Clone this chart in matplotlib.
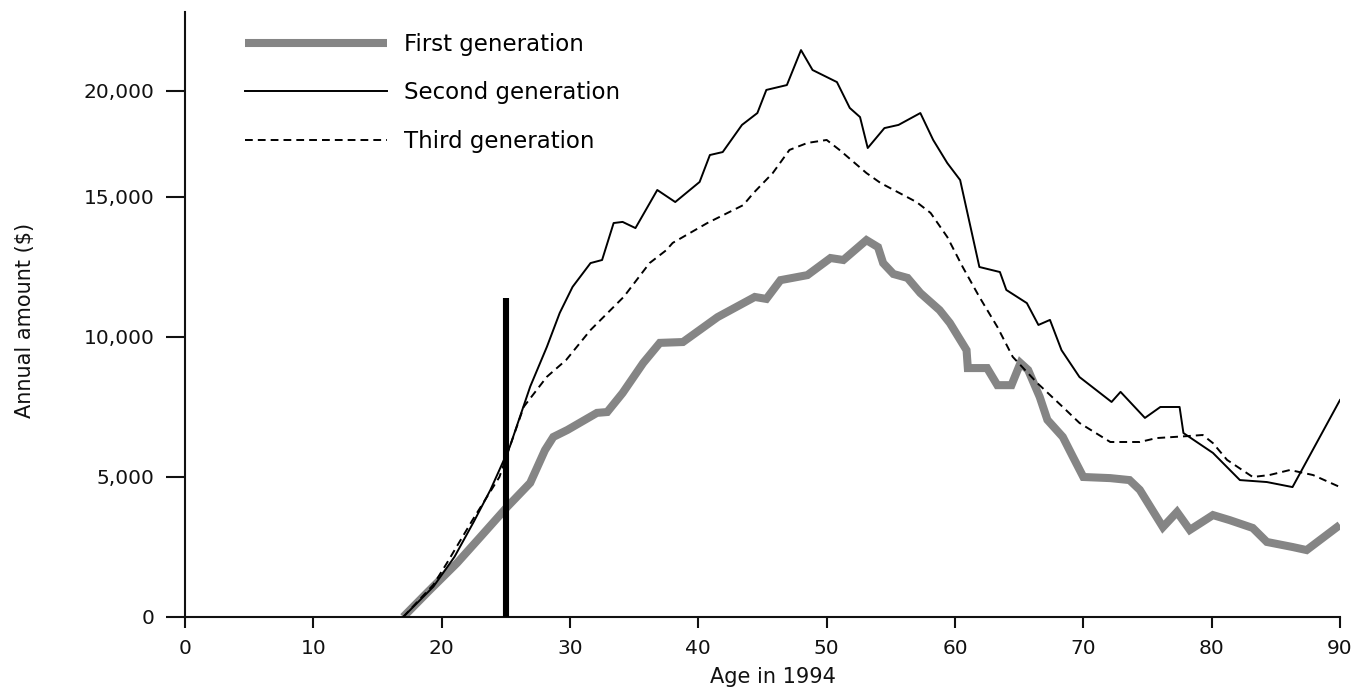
import numpy as np
import matplotlib
matplotlib.use("Agg")
import matplotlib.pyplot as plt
from matplotlib.lines import Line2D

# Annual amount by age in 1994, per immigrant generation
ages_first = [17.0, 19.0, 21.2, 23.0, 25.1, 26.9, 28.05, 28.7, 29.8, 32.1, 32.9, 34.1,
              35.7, 37.0, 38.8, 41.5, 44.4, 45.3, 46.4, 48.5, 50.3, 51.3, 53.1, 54.0,
              54.4, 55.2, 56.3, 57.3, 58.8, 59.6, 60.9, 61.0, 62.5, 63.3, 64.4, 65.1,
              65.7, 66.6, 67.2, 68.4, 69.2, 70.0, 72.1, 73.6, 74.4, 76.2, 77.3, 78.3,
              80.1, 81.4, 83.2, 84.3, 86.3, 87.4, 90.0]
amount_first = [0, 930, 1930, 2850, 3930, 4790, 5960, 6430, 6680, 7290, 7320, 8000,
                9070, 9790, 9820, 10710, 11430, 11360, 12030, 12210, 12820, 12750, 13460, 13210,
                12640, 12250, 12110, 11570, 10960, 10500, 9530, 8890, 8890, 8280, 8280, 9070,
                8820, 7860, 7040, 6430, 5710, 5000, 4960, 4890, 4540, 3210, 3750, 3110,
                3640, 3460, 3180, 2680, 2500, 2390, 3290]

ages_second = [17.0, 19.35, 21.0, 22.5, 23.8, 25.3, 26.9, 28.2, 29.2, 30.2, 31.6, 32.5,
               33.4, 34.1, 35.1, 36.8, 38.2, 40.1, 40.9, 41.9, 43.4, 44.6, 45.3, 46.9,
               48.0, 48.9, 50.8, 51.8, 52.6, 53.2, 54.5, 55.6, 57.3, 58.3, 59.4, 60.4,
               61.9, 63.5, 64.0, 65.6, 66.5, 67.4, 68.3, 69.7, 72.2, 72.9, 74.8, 76.0,
               77.5, 77.8, 80.1, 82.2, 84.3, 86.3, 90.0]
amount_second = [0, 1080, 2150, 3400, 4540, 6070, 8230, 9650, 10860, 11790, 12640, 12750,
                 14070, 14110, 13890, 15330, 14820, 15710, 16980, 17120, 18400, 18960, 20050, 20280,
                 21930, 20990, 20420, 19200, 18770, 17310, 18250, 18400, 18960, 17690, 16600, 15800,
                 12500, 12320, 11680, 11210, 10430, 10610, 9530, 8570, 7680, 8040, 7110, 7500,
                 7500, 6570, 5860, 4890, 4820, 4640, 7750]

ages_third = [17.0, 19.35, 20.4, 22.4, 24.5, 25.3, 26.4, 28.2, 29.7, 31.6, 34.2, 36.2,
              37.5, 38.0, 40.7, 43.5, 44.3, 45.8, 47.1, 48.5, 50.0, 51.0, 53.1, 54.2,
              57.0, 58.1, 59.4, 60.6, 61.9, 63.3, 64.5, 66.4, 68.4, 69.7, 72.1, 74.4,
              75.7, 78.1, 79.3, 80.1, 81.2, 83.2, 84.5, 86.1, 87.9, 90.0]
amount_third = [0, 1150, 1920, 3460, 5000, 6070, 7510, 8580, 9180, 10250, 11440, 12640,
                13100, 13360, 14070, 14710, 15190, 16130, 17220, 17550, 17690, 17220, 16130, 15660,
                14820, 14430, 13570, 12500, 11430, 10360, 9290, 8360, 7500, 6930, 6250, 6250,
                6390, 6460, 6500, 6210, 5610, 5000, 5070, 5250, 5070, 4640]

marker_age = 25
marker_top = 11400

series_labels = ["First generation", "Second generation", "Third generation"]
x_ticks = [0, 10, 20, 30, 40, 50, 60, 70, 80, 90]
y_ticks = [0, 5000, 10000, 15000, 20000]
y_tick_labels = ["0", "5,000", "10,000", "15,000", "20,000"]

# The value axis is compressed above 15,000
KNEE = 15000.0
UPPER = 106.0 / 140.0


def fwd(y):
    y = np.asarray(y, dtype=float)
    return np.where(y <= KNEE, y, KNEE + (y - KNEE) * UPPER)


def inv(y):
    y = np.asarray(y, dtype=float)
    return np.where(y <= KNEE, y, KNEE + (y - KNEE) / UPPER)


plt.rcParams["font.family"] = ["DejaVu Sans"]

fig = plt.figure(figsize=(13.6, 6.91), dpi=100)
ax = fig.add_axes([185 / 1360, 74 / 691, 1155 / 1360, 605 / 691])
ax.set_yscale("function", functions=(fwd, inv))

grey = "#858585"
ax.plot(ages_first, amount_first, color=grey, lw=5.8, solid_joinstyle="miter",
        solid_capstyle="butt", zorder=2)
ax.plot(ages_second, amount_second, color="black", lw=1.4, zorder=3)
ax.plot(ages_third, amount_third, color="black", lw=1.4, linestyle=(0, (4, 2.6)), zorder=3)
ax.plot([marker_age, marker_age], [0, marker_top], color="black", lw=4.4,
        solid_capstyle="butt", zorder=4)

ax.set_xlim(0, 90)
ax.set_ylim(0, 23726)
ax.set_xticks(x_ticks)
ax.set_xticklabels([str(t) for t in x_ticks])
ax.set_yticks(y_ticks)
ax.set_yticklabels(y_tick_labels)
ax.yaxis.set_minor_locator(matplotlib.ticker.NullLocator())

for side in ("top", "right"):
    ax.spines[side].set_visible(False)
for side in ("left", "bottom"):
    ax.spines[side].set_linewidth(1.5)
    ax.spines[side].set_color("#111111")

ax.tick_params(axis="y", direction="out", length=14, width=1.5, pad=8,
               labelsize=14.5, colors="#111111")
ax.tick_params(axis="x", direction="out", length=8, width=1.5, pad=8,
               labelsize=14.5, colors="#111111")

ax.set_xlabel("Age in 1994", fontsize=15, color="#111111")
ax.xaxis.set_label_coords(0.509, -0.083)
ax.set_ylabel("Annual amount ($)", fontsize=15, color="#111111")
ax.yaxis.set_label_coords(-0.13, 0.49)

handles = [
    Line2D([], [], color=grey, lw=5.8, solid_capstyle="butt"),
    Line2D([], [], color="black", lw=1.4),
    Line2D([], [], color="black", lw=1.4, linestyle=(0, (4, 2.6))),
]
ax.legend(handles, series_labels, loc="upper left",
          bbox_to_anchor=(60 / 1155, (617 - 33) / 605), frameon=False,
          fontsize=16.5, handlelength=6.2, handletextpad=0.75,
          labelspacing=1.11, borderpad=0, borderaxespad=0)

fig.savefig("out.png", dpi=100, facecolor="white")
